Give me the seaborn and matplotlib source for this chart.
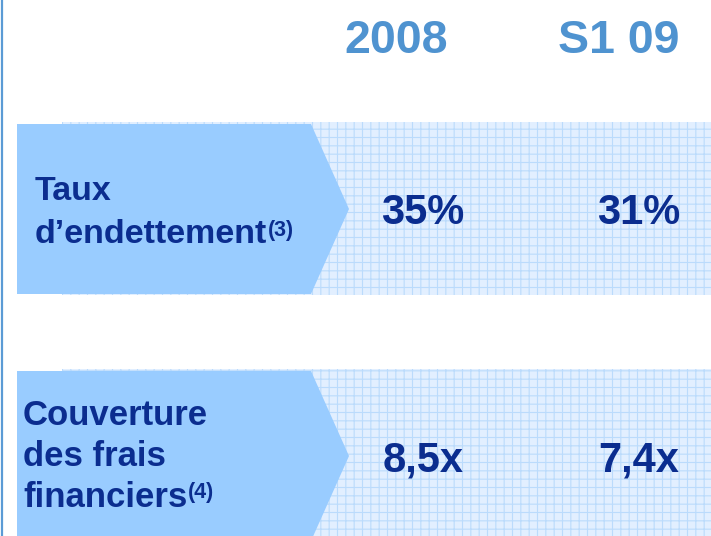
import matplotlib
matplotlib.use("Agg")
import matplotlib.pyplot as plt
import seaborn as sns
from matplotlib.patches import Polygon, Rectangle

# data
periods = ["2008", "S1 09"]
metric_lines = [["Taux", "d’endettement"], ["Couverture", "des frais", "financiers"]]
metric_notes = ["(3)", "(4)"]
values_2008 = ["35%", "8,5x"]
values_s1_09 = ["31%", "7,4x"]

# layout (pixel coordinates of a 711x536 canvas)
W, H = 711, 536
row_tops = [122, 369]
row_height = 173
header_x = [396, 619]
value_x = [423, 639]
label_x = [35, 23]
label_size = [24.5, 25]
label_baselines = [[200, 243], [425, 466, 507]]

NAVY = "#0B2D8F"
HEADER = "#4F93D0"
ARROW = "#99CCFF"
GRID_FACE = "#E2EFFF"
GRID_LINE = "#BBDBFC"

sns.set_theme(style="white")
plt.rcParams["font.family"] = ["Liberation Sans", "DejaVu Sans"]
plt.rcParams["hatch.linewidth"] = 0.8

fig = plt.figure(figsize=(W / 100, H / 100), dpi=100)
ax = fig.add_axes([0, 0, 1, 1])
ax.set_xlim(0, W)
ax.set_ylim(H, 0)
ax.axis("off")

# left rule
ax.plot([2, 2], [0, H], color="#5B9BD5", lw=1.6, solid_capstyle="butt")

for x, name in zip(header_x, periods):
    ax.text(x, 53, name, ha="center", va="baseline", fontsize=33.5,
            fontweight="bold", color=HEADER)

for i, top in enumerate(row_tops):
    # hatched background band
    ax.add_patch(Rectangle((62, top), W - 62, row_height, facecolor=GRID_FACE,
                           edgecolor=GRID_LINE, hatch="++", linewidth=0, zorder=1))
    # arrow
    a_top, a_bot = top + 2, top + row_height - 1
    mid = (a_top + a_bot) / 2
    ax.add_patch(Polygon([(17, a_top), (311, a_top), (349, mid), (311, a_bot), (17, a_bot)],
                         closed=True, facecolor=ARROW, edgecolor="none", zorder=2))

    last = None
    for line, base in zip(metric_lines[i], label_baselines[i]):
        last = ax.text(label_x[i], base, line, ha="left", va="baseline",
                       fontsize=label_size[i], fontweight="bold", color=NAVY, zorder=3)
    ax.annotate(metric_notes[i], xy=(1.0, 0.96), xycoords=last, xytext=(0.5, 0),
                textcoords="offset points", ha="left", va="top", fontsize=15.5,
                fontweight="bold", color=NAVY, zorder=3)

    for x, val in zip(value_x, [values_2008[i], values_s1_09[i]]):
        ax.text(x, mid + 15, val, ha="center", va="baseline", fontsize=30,
                fontweight="bold", color=NAVY, zorder=3)

fig.savefig("out.png", dpi=100)
